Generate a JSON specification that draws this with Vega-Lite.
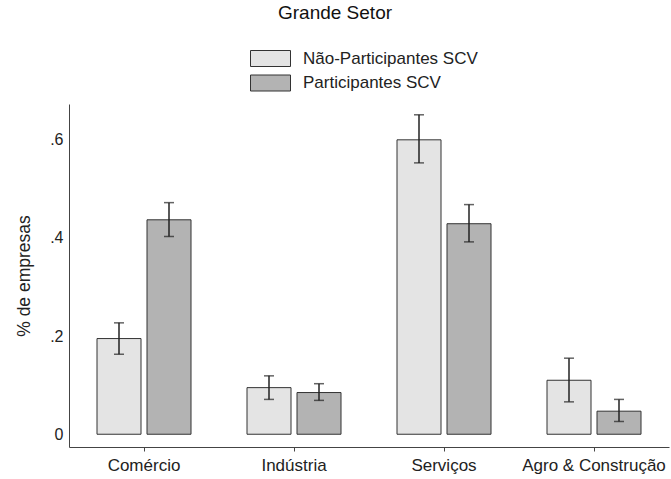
{
  "$schema": "https://vega.github.io/schema/vega-lite/v6.json",
  "width": 600,
  "height": 343,
  "autosize": {"type": "none"},
  "padding": {"left": 69, "top": 104, "right": 2, "bottom": 32},
  "background": "white",
  "title": {"text": "Grande Setor", "fontSize": 19, "fontWeight": "normal", "font": "Liberation Sans", "color": "#111", "anchor": "middle", "dx": -34, "offset": 25},
  "config": {"view": {"stroke": null}, "font": "Liberation Sans"},
  "data": {"values": [
    {"setor": "Comércio", "grupo": "Não-Participantes SCV", "v": 0.195, "lo": 0.163, "hi": 0.227},
    {"setor": "Comércio", "grupo": "Participantes SCV", "v": 0.437, "lo": 0.403, "hi": 0.472},
    {"setor": "Indústria", "grupo": "Não-Participantes SCV", "v": 0.095, "lo": 0.071, "hi": 0.119},
    {"setor": "Indústria", "grupo": "Participantes SCV", "v": 0.085, "lo": 0.069, "hi": 0.103},
    {"setor": "Serviços", "grupo": "Não-Participantes SCV", "v": 0.600, "lo": 0.553, "hi": 0.651},
    {"setor": "Serviços", "grupo": "Participantes SCV", "v": 0.429, "lo": 0.392, "hi": 0.468},
    {"setor": "Agro & Construção", "grupo": "Não-Participantes SCV", "v": 0.110, "lo": 0.066, "hi": 0.155},
    {"setor": "Agro & Construção", "grupo": "Participantes SCV", "v": 0.047, "lo": 0.026, "hi": 0.071}
  ]},
  "encoding": {
    "x": {"field": "setor", "type": "nominal", "sort": ["Comércio", "Indústria", "Serviços", "Agro & Construção"],
      "scale": {"paddingInner": 0, "paddingOuter": 0},
      "axis": {"title": null, "labelAngle": 0, "labelFontSize": 17, "labelColor": "#222", "domainColor": "#444", "tickColor": "#444", "tickSize": 4, "labelPadding": 6, "grid": false, "labelLimit": 300}},
    "xOffset": {"field": "grupo", "type": "nominal", "scale": {"paddingInner": 0.12, "paddingOuter": 0.56}}
  },
  "layer": [
    {
      "mark": {"type": "bar", "stroke": "#333", "strokeWidth": 1},
      "encoding": {
        "y": {"field": "v", "type": "quantitative", "scale": {"domain": [-0.026, 0.673], "nice": false, "zero": false},
          "axis": {"title": "% de empresas", "titleFontSize": 17.5, "titleFontWeight": "normal", "titleColor": "#222", "titlePadding": 16, "values": [0, 0.2, 0.4, 0.6], "labelExpr": "datum.value == 0 ? '0' : replace(format(datum.value, '.1f'), '0.', '.')", "labelFontSize": 16, "labelColor": "#222", "tickSize": 0, "labelPadding": 6, "domainColor": "#444", "grid": false}},
        "fill": {"field": "grupo", "type": "nominal",
          "scale": {"domain": ["Não-Participantes SCV", "Participantes SCV"], "range": ["#e4e4e4", "#b3b3b3"]},
          "legend": {"title": null, "orient": "none", "legendX": 191, "legendY": -56, "direction": "vertical", "symbolType": "M-2,-0.8H2V0.8H-2Z", "symbolSize": 400, "symbolStrokeColor": "#333", "symbolStrokeWidth": 1, "labelFontSize": 17, "labelColor": "#222", "labelOffset": 22, "labelLimit": 400, "rowPadding": 3.5}}
      }
    },
    {
      "mark": {"type": "rule", "color": "#222", "strokeWidth": 1.5},
      "encoding": {"y": {"field": "lo", "type": "quantitative"}, "y2": {"field": "hi"}}
    },
    {
      "mark": {"type": "tick", "color": "#222", "thickness": 1.5, "size": 10, "orient": "horizontal"},
      "encoding": {"y": {"field": "lo", "type": "quantitative"}}
    },
    {
      "mark": {"type": "tick", "color": "#222", "thickness": 1.5, "size": 10, "orient": "horizontal"},
      "encoding": {"y": {"field": "hi", "type": "quantitative"}}
    }
  ]
}
